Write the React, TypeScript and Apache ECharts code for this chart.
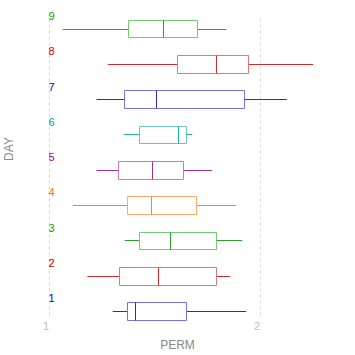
import React, { useEffect, useRef } from "react";
import * as echarts from "echarts";

const days = ["1", "2", "3", "4", "5", "6", "7", "8", "9"];
const mins = [1.302, 1.182, 1.359, 1.113, 1.225, 1.355, 1.225, 1.279, 1.065];
const q1s = [1.369, 1.331, 1.426, 1.369, 1.326, 1.426, 1.355, 1.606, 1.375];
const medians = [1.407, 1.516, 1.574, 1.484, 1.487, 1.612, 1.506, 1.792, 1.539];
const q3s = [1.648, 1.791, 1.791, 1.696, 1.634, 1.648, 1.925, 1.942, 1.700];
const maxs = [1.935, 1.859, 1.916, 1.887, 1.773, 1.679, 2.127, 2.252, 1.840];
const xTicks = [1, 2];

const palette = [
  { dark: "#2a2acb", light: "#7474e0", label: "#0000cc" },
  { dark: "#d42a2a", light: "#e07878", label: "#cc0000" },
  { dark: "#2ca02c", light: "#70cc70", label: "#00a000" },
  { dark: "#f58530", light: "#ffaa66", label: "#f07010" },
  { dark: "#a030a0", light: "#c878c8", label: "#990099" },
  { dark: "#20aaaa", light: "#70c0c0", label: "#009999" },
];

export default function App() {
  const ref = useRef<HTMLDivElement>(null);
  useEffect(() => {
    if (!ref.current) return;
    const chart = echarts.init(ref.current, undefined, { renderer: "svg" });
    const data = days.map((d, i) => [i, mins[i], q1s[i], medians[i], q3s[i], maxs[i]]);
    const px = (v: number) => Math.round(v) + 0.5;
    chart.setOption({
      animation: false,
      backgroundColor: "#fff",
      grid: [
        { left: 49, width: 211, top: 10.85, height: 317.8 },
        { left: 49, width: 211, top: 18.5, height: 300 },
      ],
      xAxis: [
        { type: "value", gridIndex: 0, min: xTicks[0], max: xTicks[1], show: false },
        {
          type: "value",
          gridIndex: 1,
          min: xTicks[0],
          max: xTicks[1],
          interval: 1,
          axisLine: { show: false },
          axisTick: { show: false },
          splitLine: { show: true, lineStyle: { color: "#d8d8d8", type: [3, 3], width: 1 } },
          axisLabel: {
            color: "#bdbdbd",
            fontSize: 11,
            fontFamily: "Liberation Sans, Arial",
            align: "right",
            margin: 2,
            formatter: (v: number) => String(v),
          },
        },
      ],
      yAxis: [
        { type: "category", gridIndex: 0, data: days, boundaryGap: true, show: false },
        { type: "value", gridIndex: 1, show: false },
      ],
      graphic: [
        {
          type: "text",
          x: 177.5,
          y: 344.5,
          style: {
            text: "PERM",
            fill: "#888",
            fontSize: 12,
            fontFamily: "Liberation Sans, Arial",
            textAlign: "center",
            textVerticalAlign: "middle",
          },
        },
        {
          type: "text",
          x: 9,
          y: 149,
          rotation: Math.PI / 2,
          style: {
            text: "DAY",
            fill: "#888",
            fontSize: 12,
            fontFamily: "Liberation Sans, Arial",
            textAlign: "center",
            textVerticalAlign: "middle",
          },
        },
      ],
      series: [
        {
          type: "custom",
          xAxisIndex: 0,
          yAxisIndex: 0,
          clip: false,
          encode: { y: 0, x: [1, 2, 3, 4, 5] },
          data,
          renderItem: (params: any, api: any) => {
            const idx = params.dataIndex;
            const c = palette[idx % palette.length];
            const pMin = api.coord([api.value(1), idx]);
            const pQ1 = api.coord([api.value(2), idx]);
            const pMed = api.coord([api.value(3), idx]);
            const pQ3 = api.coord([api.value(4), idx]);
            const pMax = api.coord([api.value(5), idx]);
            const band = api.size([0, 1])[1];
            const h = band * 0.25;
            const cy = px(pMed[1]);
            const top = Math.round(pMed[1] - h) + 0.5;
            const bot = Math.round(pMed[1] + h) + 0.5;
            const xq1 = px(pQ1[0]);
            const xq3 = px(pQ3[0]);
            const xm = px(pMed[0]);
            return {
              type: "group",
              children: [
                {
                  type: "line",
                  shape: { x1: pMin[0], y1: cy, x2: xq1, y2: cy },
                  style: { stroke: c.dark, lineWidth: 1 },
                },
                {
                  type: "line",
                  shape: { x1: xq3, y1: cy, x2: pMax[0], y2: cy },
                  style: { stroke: c.dark, lineWidth: 1 },
                },
                {
                  type: "rect",
                  shape: { x: xq1, y: top, width: xq3 - xq1, height: bot - top },
                  style: { stroke: c.light, fill: "none", lineWidth: 1 },
                },
                {
                  type: "line",
                  shape: { x1: xm, y1: top, x2: xm, y2: bot },
                  style: { stroke: c.dark, lineWidth: 1 },
                },
                {
                  type: "text",
                  x: params.coordSys.x - 0.5,
                  y: pMed[1] - 12.6,
                  style: {
                    text: days[idx],
                    fill: c.label,
                    fontSize: 11,
                    fontFamily: "Liberation Sans, Arial",
                    textAlign: "left",
                    textVerticalAlign: "middle",
                  },
                },
              ],
            };
          },
        },
      ],
    });
    return () => chart.dispose();
  }, []);
  return (
    <div
      ref={ref}
      style={{ position: "fixed", left: 0, top: 0, width: 355, height: 355 }}
    />
  );
}
